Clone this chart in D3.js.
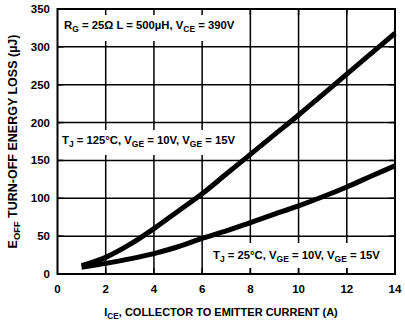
<!DOCTYPE html>
<html>
<meta charset="utf-8">
<style>
body { margin: 0; background: #fff; }
text { font-family: "Liberation Sans", Arial, sans-serif; font-weight: bold; fill: #000; }
</style>
<body>
<script src="https://d3js.org/d3.v7.min.js"></script>
<script>
var width = 405,
    height = 323;

// chart values
var xTicks = [0, 2, 4, 6, 8, 10, 12, 14];
var yTicks = [0, 50, 100, 150, 200, 250, 300, 350];
var current = [1, 2, 3, 4, 5, 6, 7, 8, 9, 10, 11, 12, 13, 14];
var eoff125 = [11, 22, 39, 60, 83, 106, 132, 158, 184, 210, 237, 264, 291, 318];
var eoff25  = [9, 14, 20, 27, 36, 47, 57, 68, 79, 90, 102, 115, 129, 143];

var margin = {left: 57.5, right: 10, top: 9, bottom: 49};

var svg = d3.select("body").append("svg")
    .attr("width", width)
    .attr("height", height);

var x = d3.scaleLinear().domain([0, 14]).range([margin.left, width - margin.right]);
var y = d3.scaleLinear().domain([0, 350]).range([height - margin.bottom, margin.top]);

// grid
svg.append("g").selectAll("line")
  .data(xTicks.slice(1, -1))
  .enter().append("line")
  .attr("x1", d => x(d)).attr("x2", d => x(d))
  .attr("y1", y(350)).attr("y2", y(0))
  .style("stroke", "#000").style("stroke-width", 1.5);

svg.append("g").selectAll("line")
  .data(yTicks.slice(1, -1))
  .enter().append("line")
  .attr("x1", x(0)).attr("x2", x(14))
  .attr("y1", d => y(d)).attr("y2", d => y(d))
  .style("stroke", "#000").style("stroke-width", 1.5);

// text with subscripts: parts alternate normal / subscript
function richText(g, px, py, parts, anchor, size) {
  size = size || 11;
  var t = g.append("text")
    .attr("x", px).attr("y", py)
    .attr("font-size", size)
    .attr("text-anchor", anchor || "start");
  parts.forEach(function(p, i) {
    var s = t.append("tspan").text(p);
    if (i % 2 == 1) s.attr("font-size", size * 0.75).attr("dy", 3);
    else if (i > 0) s.attr("dy", -3);
  });
  return t;
}

// labels with white boxes
var notes = svg.append("g");
function boxed(px, py, parts, box) {
  var g = notes.append("g");
  var r = g.append("rect").style("fill", "#fff");
  richText(g, px, py, parts, "start", 11.3);
  r.attr("x", box[0]).attr("y", box[1]).attr("width", box[2] - box[0]).attr("height", box[3] - box[1]);
}
boxed(64, 29, ["R", "G", " = 25\u03A9  L = 500\u00B5H, V", "CE", " = 390V"], [x(0), y(350), 243, 41]);
boxed(62, 144, ["T", "J", " = 125\u00B0C, V", "GE", " = 10V, V", "GE", " = 15V"], [x(0), 130, 248, 155]);
boxed(213, 259, ["T", "J", " = 25\u00B0C, V", "GE", " = 10V, V", "GE", " = 15V"], [205, 243, x(14), 268]);

// inward ticks on all sides
var ticks = svg.append("g").style("stroke", "#000").style("stroke-width", 1.5);
xTicks.slice(1, -1).forEach(function(d) {
  ticks.append("line").attr("x1", x(d)).attr("x2", x(d)).attr("y1", y(0)).attr("y2", y(0) - 6);
  ticks.append("line").attr("x1", x(d)).attr("x2", x(d)).attr("y1", y(350)).attr("y2", y(350) + 6);
});
yTicks.slice(1, -1).forEach(function(d) {
  ticks.append("line").attr("y1", y(d)).attr("y2", y(d)).attr("x1", x(0)).attr("x2", x(0) + 6);
  ticks.append("line").attr("y1", y(d)).attr("y2", y(d)).attr("x1", x(14)).attr("x2", x(14) - 6);
});

// curves
var line = d3.line()
  .x((d, i) => x(current[i]))
  .y(d => y(d))
  .curve(d3.curveMonotoneX);

[eoff125, eoff25].forEach(function(s) {
  svg.append("path")
    .attr("d", line(s))
    .style("fill", "none")
    .style("stroke", "#000")
    .style("stroke-width", 5);
});

// frame
svg.append("rect")
  .attr("x", x(0)).attr("y", y(350))
  .attr("width", x(14) - x(0)).attr("height", y(0) - y(350))
  .style("fill", "none").style("stroke", "#000").style("stroke-width", 2);

// tick labels
svg.append("g").selectAll("text")
  .data(xTicks)
  .enter().append("text")
  .attr("x", d => x(d)).attr("y", 293)
  .attr("text-anchor", "middle")
  .attr("font-size", 11.5)
  .text(d => d);

svg.append("g").selectAll("text")
  .data(yTicks)
  .enter().append("text")
  .attr("x", 50).attr("y", d => y(d) + 4)
  .attr("text-anchor", "end")
  .attr("font-size", 11.5)
  .text(d => d);

// axis titles
richText(svg, 221, 316, ["I", "CE", ", COLLECTOR TO EMITTER CURRENT (A)"], "middle", 11);
richText(svg.append("g").attr("transform", "translate(17," + (y(175)) + ") rotate(-90)"),
  0, 0, ["E", "OFF", " TURN-OFF ENERGY LOSS (\u00B5J)"], "middle", 12.5);
</script>
</body>
</html>
